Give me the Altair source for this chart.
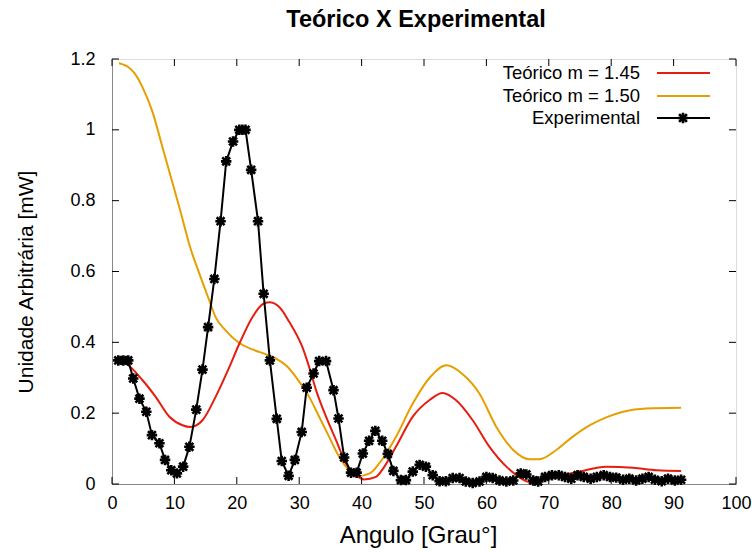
import altair as alt
import pandas as pd

# ---------------- data ----------------
exp_x = [1.0, 1.8, 2.6, 3.4, 4.4, 5.5, 6.4, 7.6, 8.5, 9.5,
         10.4, 11.4, 12.4, 13.5, 14.5, 15.4, 16.4, 17.4, 18.3, 19.4,
         20.4, 20.9, 21.4, 22.3, 23.4, 24.3, 25.3, 26.4, 27.2, 28.3,
         29.3, 30.4, 31.2, 32.3, 33.2, 34.3, 35.5, 36.3, 37.2, 38.3,
         39.2, 40.2, 41.2, 42.2, 43.3, 44.2, 45.1, 46.3, 47.1, 48.2,
         49.3, 50.3, 51.4, 52.5, 53.5, 54.6, 55.7, 56.7, 57.8, 58.9,
         60.0, 61.0, 62.1, 63.2, 64.3, 65.5, 66.4, 67.5, 68.3, 69.4,
         70.5, 71.6, 72.6, 73.6, 74.6, 75.6, 76.7, 77.7, 78.8, 79.8,
         80.8, 81.9, 82.9, 84.0, 85.0, 86.0, 87.0, 88.1, 89.1, 90.2, 91.2]
exp_y = [0.349, 0.349, 0.349, 0.298, 0.241, 0.204, 0.138, 0.115, 0.068, 0.039,
         0.030, 0.049, 0.105, 0.210, 0.323, 0.443, 0.579, 0.742, 0.911, 0.967,
         1.0, 1.0, 1.0, 0.887, 0.742, 0.537, 0.349, 0.184, 0.065, 0.023,
         0.068, 0.147, 0.272, 0.312, 0.347, 0.347, 0.265, 0.185, 0.075, 0.032,
         0.032, 0.086, 0.122, 0.150, 0.122, 0.085, 0.037, 0.011, 0.011, 0.035,
         0.054, 0.049, 0.025, 0.008, 0.008, 0.017, 0.017, 0.007, 0.003, 0.007,
         0.020, 0.017, 0.010, 0.007, 0.010, 0.030, 0.027, 0.010, 0.007, 0.020,
         0.025, 0.025, 0.020, 0.015, 0.025, 0.020, 0.015, 0.020, 0.025, 0.020,
         0.018, 0.012, 0.015, 0.010, 0.015, 0.020, 0.012, 0.008, 0.015, 0.010, 0.012]

t150_x = [1.1, 2.7, 3.5, 4.9, 6.5, 8.1, 9.7, 11.0, 12.5, 14.0,
          15.6, 16.6, 18.2, 20.4, 22.5, 24.7, 26.3, 28.0, 30.0, 31.6,
          33.2, 34.8, 36.4, 38.0, 39.4, 41.3, 42.9, 45.5, 48.2, 50.9,
          53.6, 56.2, 58.9, 61.6, 64.3, 66.9, 68.5, 71.2, 73.8, 76.6,
          79.2, 81.9, 85.6, 91.2]
t150_y = [1.188, 1.176, 1.162, 1.12, 1.05, 0.95, 0.85, 0.768, 0.67, 0.594,
          0.518, 0.471, 0.434, 0.398, 0.38, 0.366, 0.354, 0.333, 0.289, 0.246,
          0.19, 0.133, 0.077, 0.039, 0.022, 0.03, 0.06, 0.133, 0.227, 0.30,
          0.335, 0.31, 0.255, 0.161, 0.096, 0.07, 0.07, 0.096, 0.133, 0.166,
          0.188, 0.204, 0.213, 0.215]

t145_x = [1.1, 2.2, 4.9, 7.0, 9.2, 11.3, 12.6, 14.5, 16.6, 18.8,
          20.4, 22.5, 24.1, 25.2, 26.8, 28.4, 30.5, 31.6, 32.7, 34.3,
          35.9, 37.5, 39.1, 40.4, 42.3, 43.5, 45.5, 48.2, 50.9, 53.0,
          55.1, 57.8, 60.5, 63.2, 64.8, 66.9, 69.0, 72.2, 74.9, 79.2,
          83.5, 87.3, 91.2]
t145_y = [0.345, 0.34, 0.293, 0.246, 0.19, 0.166, 0.161, 0.18, 0.246, 0.33,
          0.396, 0.471, 0.507, 0.513, 0.5, 0.458, 0.387, 0.33, 0.265, 0.19,
          0.124, 0.058, 0.025, 0.013, 0.02, 0.045, 0.105, 0.19, 0.237, 0.257,
          0.237, 0.18, 0.105, 0.049, 0.025, 0.006, 0.01, 0.025, 0.035, 0.049,
          0.046, 0.039, 0.037]

x_ticks = [0, 10, 20, 30, 40, 50, 60, 70, 80, 90, 100]
y_ticks = [0, 0.2, 0.4, 0.6, 0.8, 1.0, 1.2]

legend_labels = ["Teórico m = 1.45", "Teórico m = 1.50", "Experimental"]
colors = ["#e51e10", "#e69f00", "#000000"]

# ---------------- layout ----------------
W, H = 624, 425
FONT = "Liberation Sans"
STAR = "M-1,0L1,0M0,-1L0,1M-0.75,-0.75L0.75,0.75M-0.75,0.75L0.75,-0.75"

xscale = alt.Scale(domain=[0, 100], nice=False, zero=False)
yscale = alt.Scale(domain=[0, 1.2], nice=False)

xaxis = alt.Axis(values=x_ticks, title="Angulo [Grau°]", tickSize=0, labelPadding=10,
                 labelFontSize=18, titleFontSize=24, titleFontWeight="normal",
                 titleX=W / 2 - 6, titleY=51, titleBaseline="middle", grid=False, labelFlush=False)
yaxis = alt.Axis(values=y_ticks, title="Unidade Arbitrária [mW]", tickSize=0, labelPadding=17,
                 labelFontSize=18, format="~g", titleFontSize=21, titleFontWeight="normal",
                 titleX=-86, titleY=H / 2 + 10, titleAngle=-90, titleAlign="center",
                 titleBaseline="middle", grid=False)


def X(field):
    return alt.X(f"{field}:Q", scale=xscale, axis=xaxis)


def Y(field):
    return alt.Y(f"{field}:Q", scale=yscale, axis=yaxis)


df_exp = pd.DataFrame({"x": exp_x, "y": exp_y})
df_150 = pd.DataFrame({"x": t150_x, "y": t150_y})
df_145 = pd.DataFrame({"x": t145_x, "y": t145_y})

red = alt.Chart(df_145).mark_line(color=colors[0], strokeWidth=2, interpolate="monotone").encode(
    x=X("x"), y=Y("y"))
orange = alt.Chart(df_150).mark_line(color=colors[1], strokeWidth=2, interpolate="monotone").encode(
    x=X("x"), y=Y("y"))
exp_line = alt.Chart(df_exp).mark_line(color="black", strokeWidth=2).encode(x=X("x"), y=Y("y"))
exp_pts = alt.Chart(df_exp).mark_point(shape=STAR, size=110, filled=False, color="black",
                                       strokeWidth=2.6, opacity=1).encode(x=X("x"), y=Y("y"))

# inward tick marks on all four sides
df_yt = pd.DataFrame({"y": y_ticks})
df_xt = pd.DataFrame({"x": x_ticks})
tick_style = dict(color="black", strokeWidth=1)
yt_left = alt.Chart(df_yt).mark_rule(**tick_style).encode(y=Y("y"), x=alt.value(0), x2=alt.value(7))
yt_right = alt.Chart(df_yt).mark_rule(**tick_style).encode(y=Y("y"), x=alt.value(W - 7), x2=alt.value(W))
xt_bottom = alt.Chart(df_xt).mark_rule(**tick_style).encode(x=X("x"), y=alt.value(H - 7), y2=alt.value(H))
xt_top = alt.Chart(df_xt).mark_rule(**tick_style).encode(x=X("x"), y=alt.value(0), y2=alt.value(7))

# legend (gnuplot style: label then sample)
leg_layers = []
row_y = [14, 37, 59]
for i, lab in enumerate(legend_labels):
    d = pd.DataFrame({"label": [lab]})
    leg_layers.append(
        alt.Chart(d).mark_text(align="right", baseline="middle", fontSize=18.5, font=FONT, color="black")
        .encode(text="label:N", x=alt.value(528), y=alt.value(row_y[i]))
    )
    leg_layers.append(
        alt.Chart(d).mark_rule(color=colors[i], strokeWidth=2)
        .encode(x=alt.value(545), x2=alt.value(598), y=alt.value(row_y[i]))
    )
leg_layers.append(
    alt.Chart(pd.DataFrame({"label": [legend_labels[2]]}))
    .mark_point(shape=STAR, size=110, filled=False, color="black", strokeWidth=2.6, opacity=1)
    .encode(x=alt.value(571), y=alt.value(row_y[2]))
)

chart = alt.layer(
    orange, red, exp_line, exp_pts, yt_left, yt_right, xt_bottom, xt_top, *leg_layers
).properties(
    width=W, height=H,
    title=alt.TitleParams("Teórico X Experimental", fontSize=23.5, fontWeight="bold", font=FONT,
                          anchor="middle", frame="group", offset=0, baseline="alphabetic",
                          dx=-8, color="black"),
    autosize=alt.AutoSizeParams(type="none"),
    padding={"left": 112, "top": 59, "right": 16, "bottom": 68},
).configure_view(
    stroke="black", strokeWidth=1
).configure_axis(
    labelFont=FONT, titleFont=FONT, labelColor="black", titleColor="black",
    domainColor="black", domainWidth=1
).configure(background="white")

chart.save("out.html", embed_options={"renderer": "svg", "actions": False})
